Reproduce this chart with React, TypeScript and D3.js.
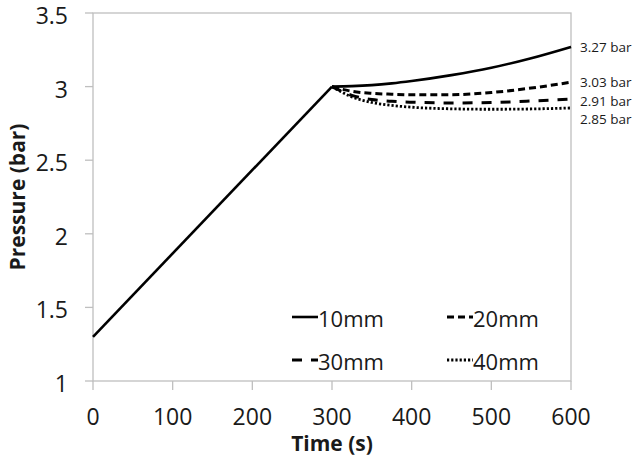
import React from 'react';
import * as d3 from 'd3';

// time (s) and pressure (bar)
const rampTime = [0, 300];
const rampPressure = [1.3, 3.0];

const seriesTime = [300, 325, 350, 375, 400, 450, 500, 550, 600];
const p10mm = [3.0, 3.003, 3.01, 3.022, 3.038, 3.078, 3.128, 3.193, 3.27];
const p20mm = [3.0, 2.968, 2.954, 2.948, 2.944, 2.945, 2.96, 2.99, 3.03];
const p30mm = [3.0, 2.94, 2.912, 2.9, 2.894, 2.889, 2.892, 2.902, 2.915];
const p40mm = [3.0, 2.93, 2.892, 2.872, 2.86, 2.849, 2.846, 2.848, 2.855];

const seriesNames = ['10mm', '20mm', '30mm', '40mm'];
const endLabels = ['3.27 bar', '3.03 bar', '2.91 bar', '2.85 bar'];

const xTicks = [0, 100, 200, 300, 400, 500, 600];
const yTicks = [1, 1.5, 2, 2.5, 3, 3.5];

const W = 640;
const H = 463;
const margin = { top: 13, right: 69, bottom: 82, left: 93 };
const font = '"Open Sans", "DejaVu Sans", sans-serif';
const frame = '#bfbfbf';

const styles = [
  { dash: 'none', width: 2.6 },
  { dash: '7,4', width: 3 },
  { dash: '10,9', width: 3 },
  { dash: '2.2,2', width: 2.8 },
];

const App: React.FC = () => {
  const innerW = W - margin.left - margin.right;
  const innerH = H - margin.top - margin.bottom;

  const x = d3.scaleLinear().domain([0, 600]).range([0, innerW]);
  const y = d3.scaleLinear().domain([1, 3.5]).range([innerH, 0]);

  const line = d3
    .line<[number, number]>()
    .x((d) => x(d[0]))
    .y((d) => y(d[1]))
    .curve(d3.curveMonotoneX);

  const values = [p10mm, p20mm, p30mm, p40mm];
  const series = values.map((vals) => seriesTime.map((t, i) => [t, vals[i]] as [number, number]));
  const ramp = rampTime.map((t, i) => [t, rampPressure[i]] as [number, number]);

  // end labels pushed apart so they don't overlap
  const labelY: number[] = [];
  values.forEach((vals, i) => {
    const yy = y(vals[vals.length - 1]) - 1;
    labelY.push(i === 0 ? yy : Math.max(yy, labelY[i - 1] + 18.5));
  });

  const legendPos = [
    { x: 199, y: 304 },
    { x: 354, y: 304 },
    { x: 199, y: 347 },
    { x: 354, y: 347 },
  ];

  return (
    <div style={{ position: 'absolute', left: 0, top: 0 }}>
      <svg width={W} height={H} style={{ display: 'block', background: '#fff' }}>
        <g transform={`translate(${margin.left},${margin.top})`}>
          <rect x={0} y={0} width={innerW} height={innerH} fill="none" stroke={frame} strokeWidth={1.3} />

          {yTicks.map((t) => (
            <g key={`y${t}`}>
              <line x1={-8} x2={0} y1={y(t)} y2={y(t)} stroke={frame} strokeWidth={1.3} />
              <text x={-25} y={y(t) + 2} textAnchor="end" dominantBaseline="central"
                fontFamily={font} fontSize={23} fill="#1a1a1a">
                {t}
              </text>
            </g>
          ))}

          {xTicks.map((t) => (
            <g key={`x${t}`}>
              <line x1={x(t)} x2={x(t)} y1={innerH} y2={innerH + 9} stroke={frame} strokeWidth={1.3} />
              <text x={x(t)} y={innerH + 35} textAnchor="middle" dominantBaseline="central"
                fontFamily={font} fontSize={23} fill="#1a1a1a">
                {t}
              </text>
            </g>
          ))}

          <path d={line(ramp) ?? ''} fill="none" stroke="#000" strokeWidth={2.6} />
          {series.map((s, i) => (
            <path key={seriesNames[i]} d={line(s) ?? ''} fill="none" stroke="#000"
              strokeWidth={styles[i].width} strokeDasharray={styles[i].dash} />
          ))}

          {endLabels.map((lab, i) => (
            <text key={lab} x={innerW + 9} y={labelY[i] + 1} dominantBaseline="central"
              fontFamily={font} fontSize={13.5} fill="#1a1a1a">
              {lab}
            </text>
          ))}

          {seriesNames.map((name, i) => (
            <g key={`lg${name}`} transform={`translate(${legendPos[i].x},${legendPos[i].y})`}>
              <line x1={0} x2={26} y1={0} y2={0} stroke="#000"
                strokeWidth={styles[i].width} strokeDasharray={styles[i].dash} />
              <text x={26} y={1} dominantBaseline="central" fontFamily={font} fontSize={22} fill="#1a1a1a">
                {name}
              </text>
            </g>
          ))}
        </g>

        <text x={margin.left + innerW / 2} y={443} textAnchor="middle" dominantBaseline="central"
          fontFamily={font} fontSize={21} fontWeight="bold" fill="#1a1a1a">
          Time (s)
        </text>
        <text transform={`translate(17,${margin.top + innerH / 2}) rotate(-90)`} textAnchor="middle"
          dominantBaseline="central" fontFamily={font} fontSize={21} fontWeight="bold" fill="#1a1a1a">
          Pressure (bar)
        </text>
      </svg>
    </div>
  );
};

export default App;
